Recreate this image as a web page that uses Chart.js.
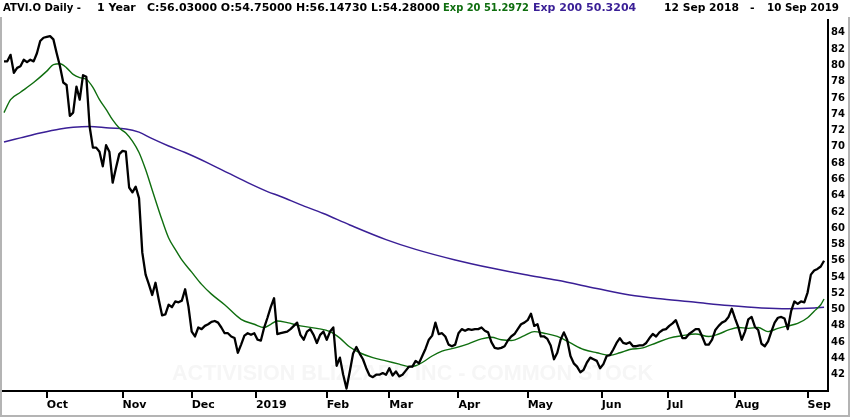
<!DOCTYPE html>
<html>
<head>
<meta charset="utf-8">
<script src="https://cdn.jsdelivr.net/npm/chart.js@4.4.0/dist/chart.umd.min.js"></script>
<style>
html,body{margin:0;padding:0;background:#fff;}
canvas{display:block;}
</style>
</head>
<body>
<canvas id="c" width="850" height="417"></canvas>
<script>
// ---- DATA ----
const closes = [
 80.5, 80.5, 81.3, 79.1, 79.7, 79.9, 80.7, 80.4, 80.7, 80.5,
 81.5, 83.0, 83.4, 83.5, 83.6, 83.2, 81.5, 79.9, 77.9, 77.6,
 73.8, 74.2, 77.4, 75.8, 78.8, 78.6, 72.5, 69.9, 69.9, 69.4,
 67.6, 70.2, 69.4, 65.6, 67.4, 69.1, 69.5, 69.4, 65.0, 64.4,
 65.1, 63.7, 57.0, 54.3, 53.1, 51.8, 53.3, 51.2, 49.3, 49.4,
 50.6, 50.3, 51.0, 50.9, 51.1, 52.5, 50.4, 47.3, 46.7, 47.8,
 47.6, 48.0, 48.2, 48.5, 48.6, 48.4, 47.8, 47.1, 47.1, 46.7,
 46.5, 44.7, 45.7, 46.8, 47.1, 46.9, 47.1, 46.3, 46.2, 47.8,
 49.0, 50.3, 51.4, 47.0, 47.1, 47.2, 47.3, 47.6, 48.0, 48.4,
 46.9, 46.3, 47.3, 47.6, 46.9, 45.9, 46.9, 47.3, 46.3, 47.3,
 47.8, 43.1, 44.1, 42.0, 40.3, 42.4, 44.6, 45.4, 44.6, 43.9,
 42.8, 41.9, 41.7, 42.0, 42.0, 42.2, 42.0, 42.8, 41.9, 42.4,
 41.8, 42.0, 42.5, 43.0, 43.0, 43.7, 43.4, 44.3, 45.2, 46.3,
 46.8, 48.4, 47.0, 47.1, 46.7, 45.7, 45.5, 45.7, 47.1, 47.6,
 47.4, 47.6, 47.5, 47.6, 47.6, 47.8, 47.4, 47.2, 46.0, 45.3,
 45.2, 45.3, 45.5, 46.2, 46.7, 47.0, 47.6, 48.2, 48.4, 48.7,
 49.5, 48.0, 48.2, 46.7, 46.7, 46.4, 45.6, 43.9, 44.7, 46.3,
 47.2, 46.3, 44.3, 43.4, 43.0, 42.3, 42.6, 43.5, 44.1, 43.9,
 43.7, 42.8, 43.3, 44.3, 44.4, 45.1, 45.9, 46.5, 45.9, 45.8,
 46.0, 45.5, 45.5, 45.6, 45.6, 45.9, 46.5, 47.0, 46.7, 47.2,
 47.5, 47.6, 48.0, 48.3, 48.7, 47.6, 46.5, 46.5, 47.0, 47.3,
 47.6, 47.6, 46.7, 45.7, 45.7, 46.3, 47.5, 48.0, 48.4, 48.6,
 49.1, 50.1, 48.9, 47.8, 46.3, 47.3, 48.8, 49.1, 47.9, 47.5,
 45.8, 45.5, 46.1, 47.3, 48.4, 49.0, 49.1, 48.9, 47.6, 49.8,
 51.0, 50.7, 51.0, 50.9, 52.1, 54.3, 54.8, 55.0, 55.3, 56.0
];

const ema20Days = [0,2,5,9,13,15,17,19,21,23,25,27,29,31,33,35,37,39,41,43,45,48,50,52,54,57,60,63,67,72,76,79,81,83,86,90,95,99,102,105,108,112,116,120,123,125,127,130,133,137,141,145,148,151,154,158,161,164,168,172,176,180,184,187,190,194,198,202,206,210,214,217,220,223,226,229,232,235,238,241,244,246,248,249];
const ema20Values = [74.2,75.8,76.7,77.9,79.3,80.1,80.2,79.7,78.9,78.5,78.3,77.3,75.8,74.6,73.3,72.3,71.7,70.7,69.3,67.2,64.7,61.0,58.8,57.4,56.1,54.6,53.1,51.9,50.6,48.8,48.2,47.8,48.2,48.6,48.4,48.0,47.7,47.3,46.5,45.4,44.7,44.1,43.7,43.3,43.0,43.1,43.5,44.3,44.9,45.3,45.8,46.4,46.6,46.3,46.2,46.8,47.3,47.1,46.7,45.9,45.1,44.7,44.4,44.7,45.1,45.3,45.9,46.5,46.8,47.0,46.7,47.0,47.5,47.8,47.7,47.8,47.3,47.7,48.0,48.3,49.0,49.8,50.6,51.3];

const ema200Days = [0,5,11,17,21,26,32,37,41,45,50,55,62,68,74,80,84,90,97,105,116,125,137,148,158,168,180,190,200,210,220,230,238,246,249];
const ema200Values = [70.6,71.1,71.7,72.2,72.4,72.5,72.3,72.2,71.8,71.0,70.1,69.3,68.0,66.8,65.6,64.5,63.9,62.9,61.8,60.4,58.6,57.4,56.1,55.1,54.3,53.6,52.6,51.8,51.3,50.9,50.5,50.2,50.1,50.2,50.3];

const monthTickDays = [13,36,57,76.5,98,117,138,159,181.5,201.5,222,244];
const monthLabels = ['Oct','Nov','Dec','2019','Feb','Mar','Apr','May','Jun','Jul','Aug','Sep'];
const priceTicks = [42,44,46,48,50,52,54,56,58,60,62,64,66,68,70,72,74,76,78,80,82,84];

const headerTitle = 'ATVI.O Daily -';
const headerPeriod = '1 Year';
const headerOHLC = 'C:56.03000 O:54.75000 H:56.14730 L:54.28000';
const headerEma20 = 'Exp 20 51.2972';
const headerEma200 = 'Exp 200 50.3204';
const headerFrom = '12 Sep 2018';
const headerTo = '10 Sep 2019';
const watermark = 'ACTIVISION BLIZZARD INC - COMMON STOCK';

// ---- STYLE ----
const FONT = '"DejaVu Sans", sans-serif';
const GREEN = '#0f6e0f';
const PURPLE = '#3a1f96';

const decor = {
  id: 'decor',
  beforeDatasetsDraw(chart) {
    const c = chart.ctx;
    c.save();
    c.font = 'bold 22px "Liberation Sans", sans-serif';
    c.fillStyle = '#f6f6f6';
    c.textBaseline = 'alphabetic';
    c.fillText(watermark, 172, 380, 481);
    c.restore();
  },
  afterDraw(chart) {
    const c = chart.ctx;
    c.save();
    c.font = 'bold 11px ' + FONT;
    c.textBaseline = 'alphabetic';
    const seg = (t, x, col, w) => { c.fillStyle = col; if (w) c.fillText(t, x, 11, w); else c.fillText(t, x, 11); };
    seg(headerTitle, 3, '#000', 78);
    seg(headerPeriod, 97, '#000', 39);
    seg(headerOHLC, 147, '#000', 293);
    seg(headerEma20, 443, GREEN, 86);
    seg(headerEma200, 533, PURPLE, 112);
    seg(headerFrom, 664, '#000', 75);
    seg('-', 750, '#000');
    seg(headerTo, 767, '#000', 72);
    // frame
    c.strokeStyle = '#b4b4b4';
    c.lineWidth = 2;
    c.beginPath();
    c.moveTo(1, 17); c.lineTo(1, 416);
    c.moveTo(0, 416); c.lineTo(850, 416);
    c.moveTo(849, 17); c.lineTo(849, 416);
    c.stroke();
    c.restore();
  }
};

new Chart(document.getElementById('c').getContext('2d'), {
  type: 'line',
  data: {
    datasets: [
      {
        label: 'Close',
        data: closes.map((v, i) => ({x: i, y: v})),
        borderColor: '#000', borderWidth: 2.3, pointRadius: 0, tension: 0,
        borderJoinStyle: 'round', order: 0
      },
      {
        label: 'Exp 20',
        data: ema20Days.map((d, k) => ({x: d, y: ema20Values[k]})),
        borderColor: GREEN, borderWidth: 1.4, pointRadius: 0,
        cubicInterpolationMode: 'monotone', order: 1
      },
      {
        label: 'Exp 200',
        data: ema200Days.map((d, k) => ({x: d, y: ema200Values[k]})),
        borderColor: PURPLE, borderWidth: 1.5, pointRadius: 0,
        cubicInterpolationMode: 'monotone', order: 2
      }
    ]
  },
  options: {
    responsive: false,
    animation: false,
    devicePixelRatio: 1,
    layout: {padding: {top: 20, left: 3, right: 0, bottom: 0}},
    plugins: {legend: {display: false}, tooltip: {enabled: false}, title: {display: false}},
    scales: {
      x: {
        type: 'linear', position: 'bottom', min: -0.3, max: 250.2, bounds: 'data',
        afterBuildTicks: s => { s.ticks = monthTickDays.map(v => ({value: v})); },
        afterFit: s => { s.height = 26; s.paddingLeft = 0; s.paddingRight = 0; },
        ticks: {
          autoSkip: false, maxRotation: 0, minRotation: 0, align: 'start', padding: 1,
          color: '#000', font: {family: FONT, size: 11, weight: 'bold'},
          callback: (v, i) => monthLabels[i]
        },
        grid: {display: true, drawOnChartArea: false, drawTicks: true, tickLength: 7, color: '#000', lineWidth: 2},
        border: {display: true, color: '#000', width: 2}
      },
      y: {
        type: 'linear', position: 'right', min: 40, max: 85.58, bounds: 'data',
        afterBuildTicks: s => { s.ticks = priceTicks.map(v => ({value: v})); },
        afterFit: s => { s.width = 22; s.paddingTop = 0; s.paddingBottom = 0; },
        ticks: {
          padding: 3, color: '#000', crossAlign: 'near',
          font: {family: FONT, size: 10, weight: 'bold'},
          callback: v => String(v)
        },
        grid: {display: false, drawTicks: false},
        border: {display: true, color: '#000', width: 2}
      }
    }
  },
  plugins: [decor]
});
</script>
</body>
</html>
